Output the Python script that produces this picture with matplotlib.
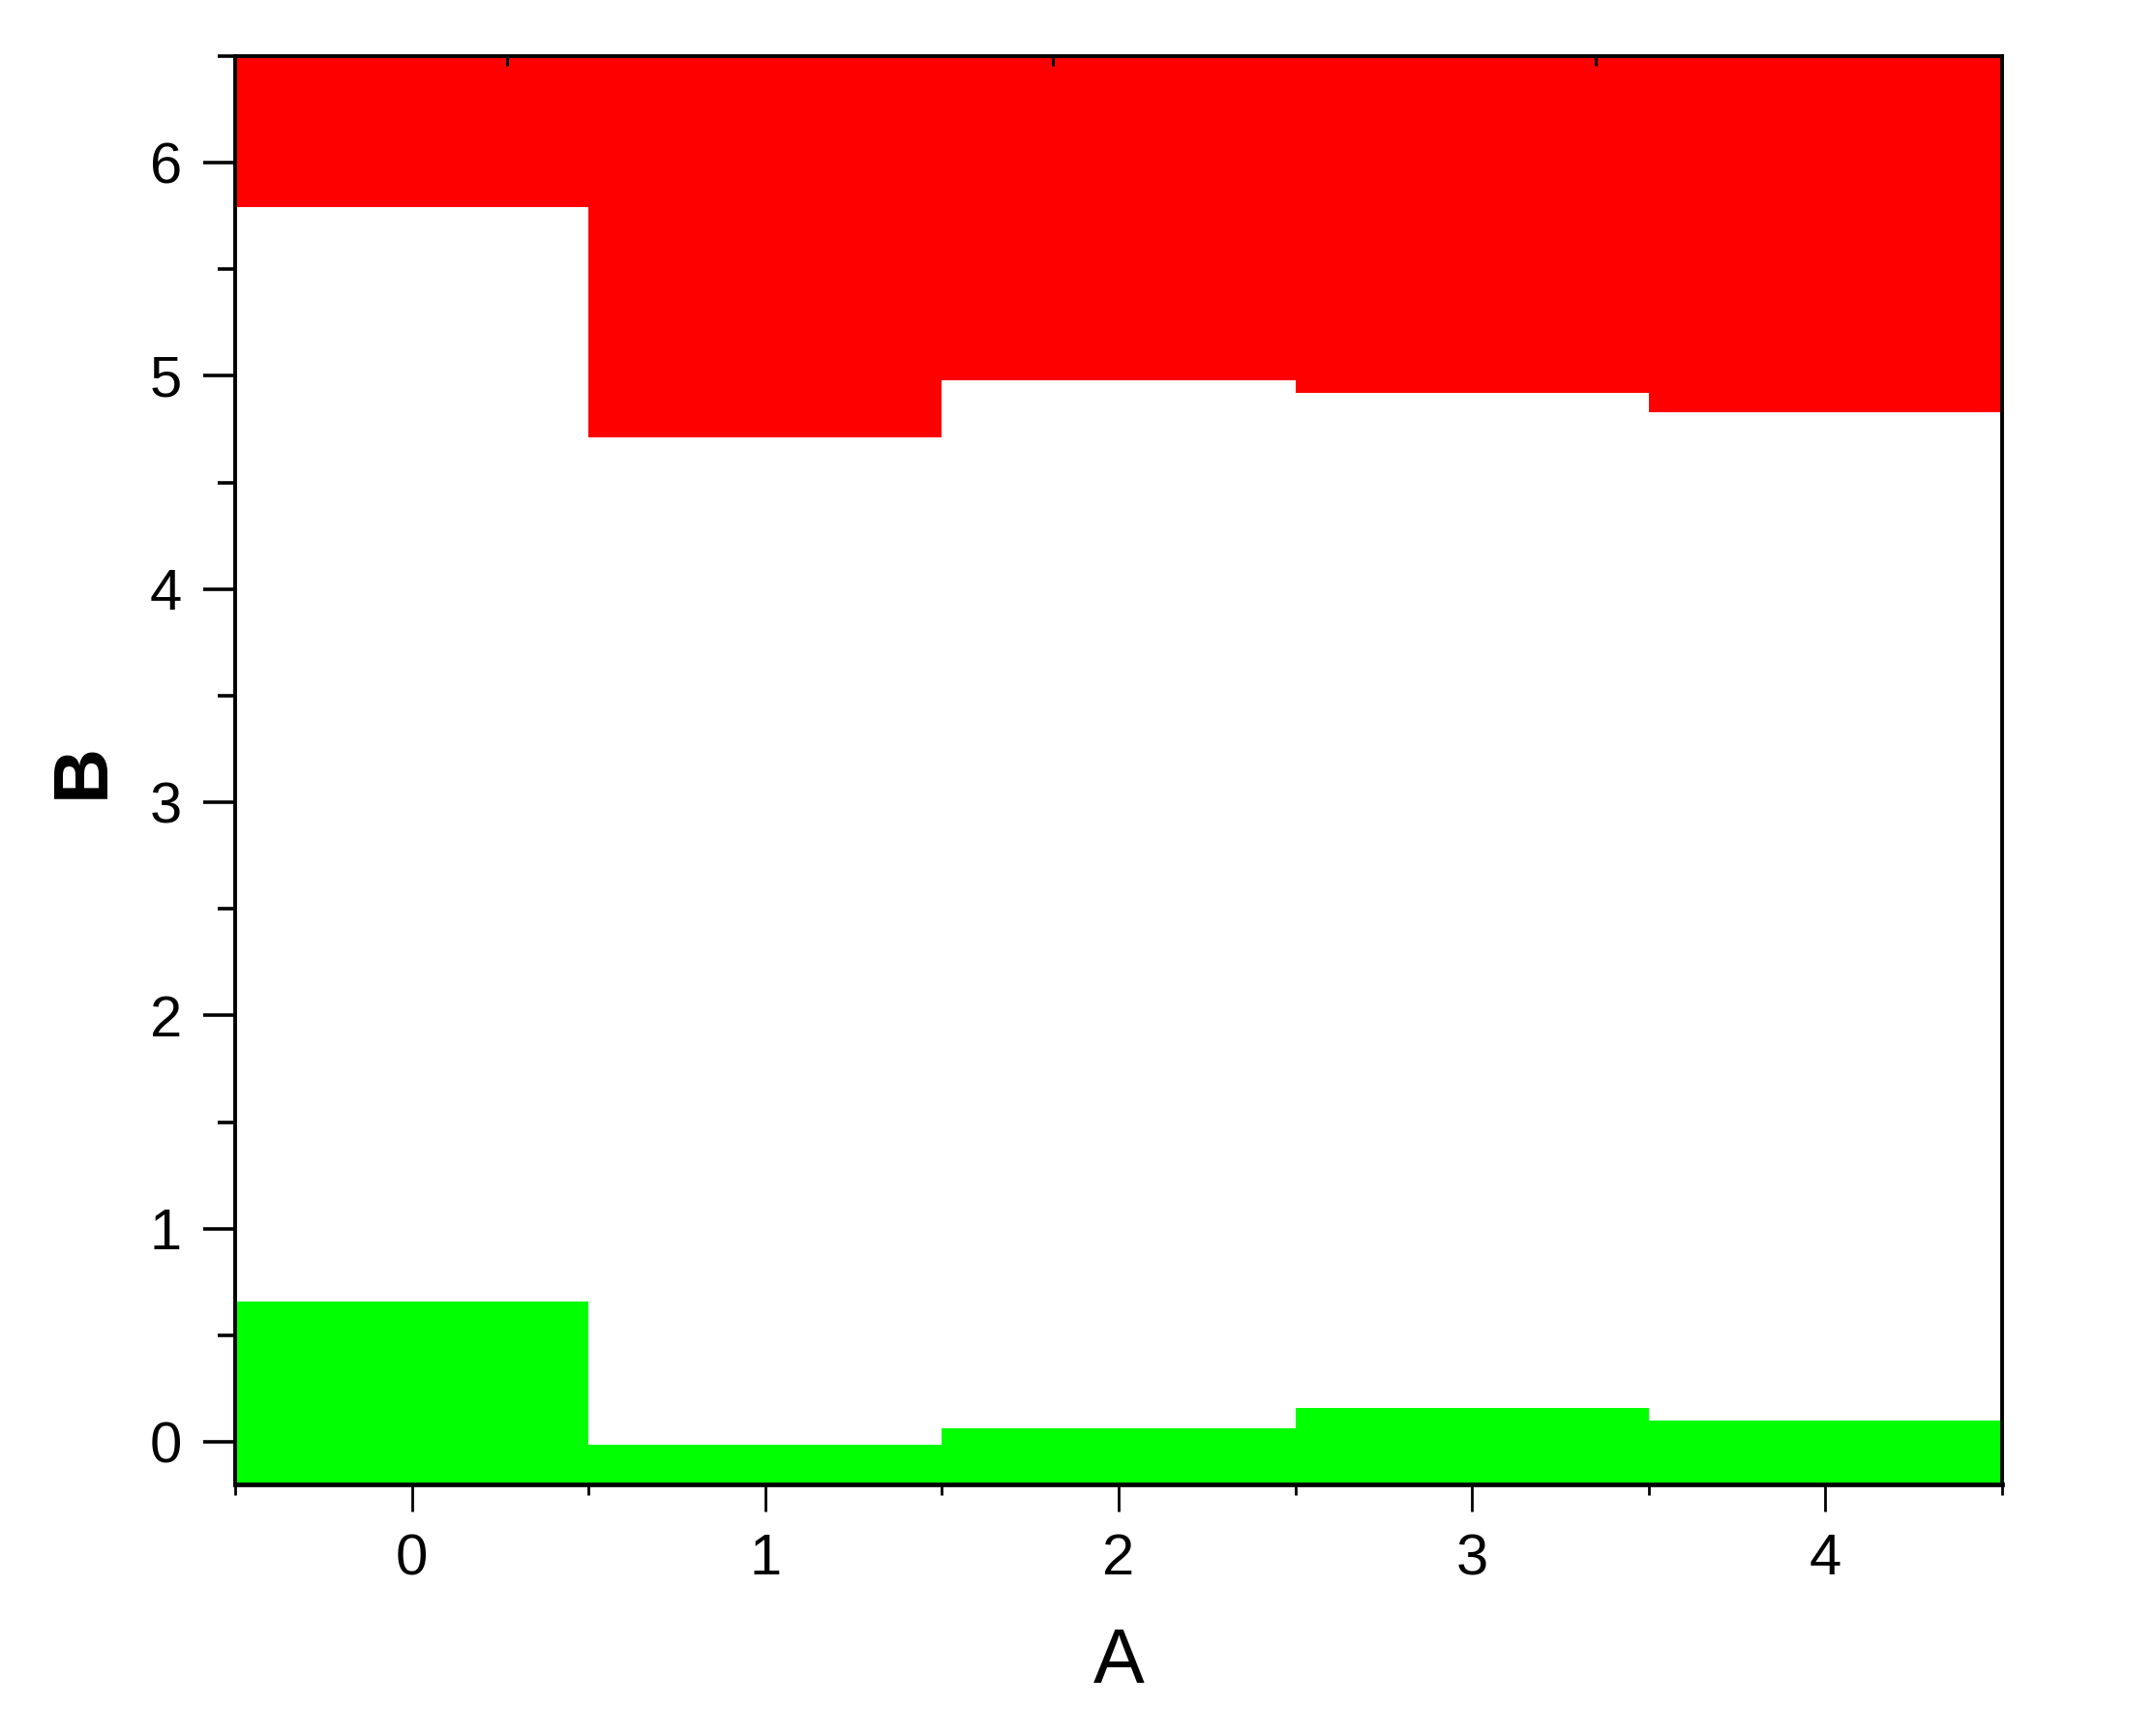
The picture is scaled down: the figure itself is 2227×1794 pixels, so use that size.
import matplotlib
matplotlib.use("Agg")
from matplotlib import pyplot as plt
from matplotlib.ticker import MultipleLocator

# step levels
a_values = [0, 1, 2, 3, 4]
upper_level = [5.79, 4.71, 4.98, 4.92, 4.83]   # red region starts here and goes up
lower_level = [0.657, -0.013, 0.064, 0.16, 0.10]  # green region goes up to here
top_marks = [0.27, 1.815, 3.35]

y_min, y_max = -0.2, 6.5

plt.rcParams['font.family'] = ['Liberation Sans', 'DejaVu Sans']

fig = plt.figure(figsize=(22.27, 17.94), dpi=100)
ax = fig.add_axes([0.1091, 0.1449, 0.8200, 0.8228])

ax.bar(a_values, [y_max - v for v in upper_level], bottom=upper_level,
       width=1.0, color='#ff0000', linewidth=0)
ax.bar(a_values, [v - y_min for v in lower_level], bottom=y_min,
       width=1.0, color='#00ff00', linewidth=0)

ax.set_xlim(-0.5, 4.5)
ax.set_ylim(y_min, y_max)

ax.xaxis.set_major_locator(MultipleLocator(1))
ax.xaxis.set_minor_locator(MultipleLocator(0.5))
ax.yaxis.set_major_locator(MultipleLocator(1))
ax.yaxis.set_minor_locator(MultipleLocator(0.5))

ax.tick_params(axis='y', which='major', length=23.5, width=2.6, labelsize=43, pad=16)
ax.tick_params(axis='y', which='minor', length=13, width=2.6)
ax.tick_params(axis='x', which='major', length=20, width=2.0, labelsize=43, pad=16)
ax.tick_params(axis='x', which='minor', length=8, width=2.0)

for side in ['left', 'right', 'top']:
    ax.spines[side].set_linewidth(2.8)
ax.spines['bottom'].set_linewidth(3.4)

# small inward marks along the top edge
ax2 = ax.twiny()
ax2.set_xlim(ax.get_xlim())
ax2.set_xticks(top_marks)
ax2.set_xticklabels([])
ax2.tick_params(direction='in', length=7, width=2.2)
for side in ax2.spines:
    ax2.spines[side].set_visible(False)

ax.set_xlabel('A', fontsize=57, labelpad=30)
ax.set_ylabel('B', fontsize=57, fontweight='bold', labelpad=22)

plt.savefig('out.png', dpi=100)
